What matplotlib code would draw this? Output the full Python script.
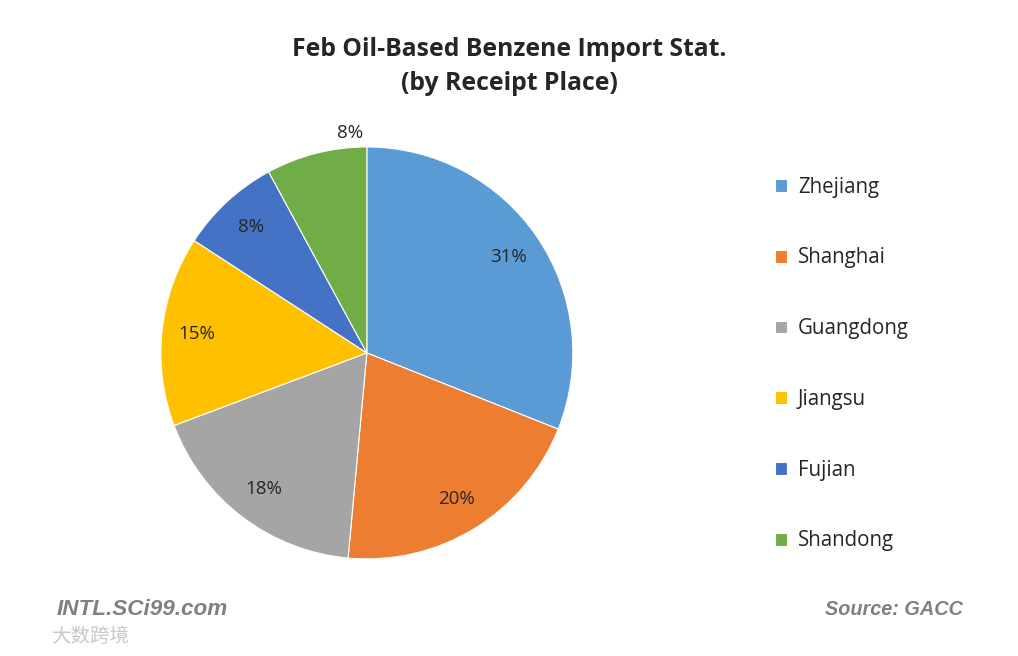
import numpy as np
import matplotlib
matplotlib.use('Agg')
import matplotlib.pyplot as plt

places = ['Zhejiang', 'Shanghai', 'Guangdong', 'Jiangsu', 'Fujian', 'Shandong']
shares = [31.0, 20.4, 17.8, 14.9, 7.9, 7.9]
colors = ['#5B9BD5', '#ED7D31', '#A5A5A5', '#FFC000', '#4472C4', '#70AD47']

title = 'Feb Oil-Based Benzene Import Stat.\n(by Receipt Place)'

fig = plt.figure(figsize=(10.18, 6.56), dpi=100)
fig.patch.set_facecolor('white')

ax = fig.add_axes([0.158, 0.148, 0.4047, 0.628])
wedges, texts, pcts = ax.pie(shares, colors=colors, startangle=90, counterclock=False,
                             autopct='%.0f%%', pctdistance=0.83,
                             wedgeprops=dict(edgecolor='white', linewidth=0.8),
                             textprops=dict(fontsize=13.5, color='#262626', family='Open Sans'))
ax.set_aspect('equal')
ax.set_xlim(-1, 1)
ax.set_ylim(-1, 1)

# last small slice: label sits outside near the top
w = wedges[-1]
ang = np.deg2rad(w.theta1 + 0.15 * (w.theta2 - w.theta1))
pcts[-1].set_position((1.07 * np.cos(ang), 1.07 * np.sin(ang)))

fig.text(0.5, 0.899, title, ha='center', va='center', fontsize=17.8,
         fontweight='bold', family='Open Sans', color='#262626', linespacing=1.45)

leg = fig.legend(wedges, places, loc='center left', bbox_to_anchor=(0.761, 0.445),
                 frameon=False, fontsize=14.8,
                 handlelength=0.58, handleheight=0.58, handletextpad=0.55,
                 labelspacing=2.42, borderaxespad=0, borderpad=0)
for t in leg.get_texts():
    t.set_color('#262626')
    t.set_family('Open Sans')

fig.text(0.056, 0.071, 'INTL.SCi99.com', fontsize=16.2, fontweight='bold', style='italic',
         family='Liberation Sans', color='#808080', va='center')
fig.text(0.946, 0.071, 'Source: GACC', fontsize=14.3, fontweight='bold', style='italic',
         family='Liberation Sans', color='#808080', va='center', ha='right')
fig.text(0.05, 0.03, '大数跨境', fontsize=14, family='Noto Sans CJK SC',
         color='#c8c8c8', va='center')

fig.savefig('out.png', dpi=100, facecolor='white')
